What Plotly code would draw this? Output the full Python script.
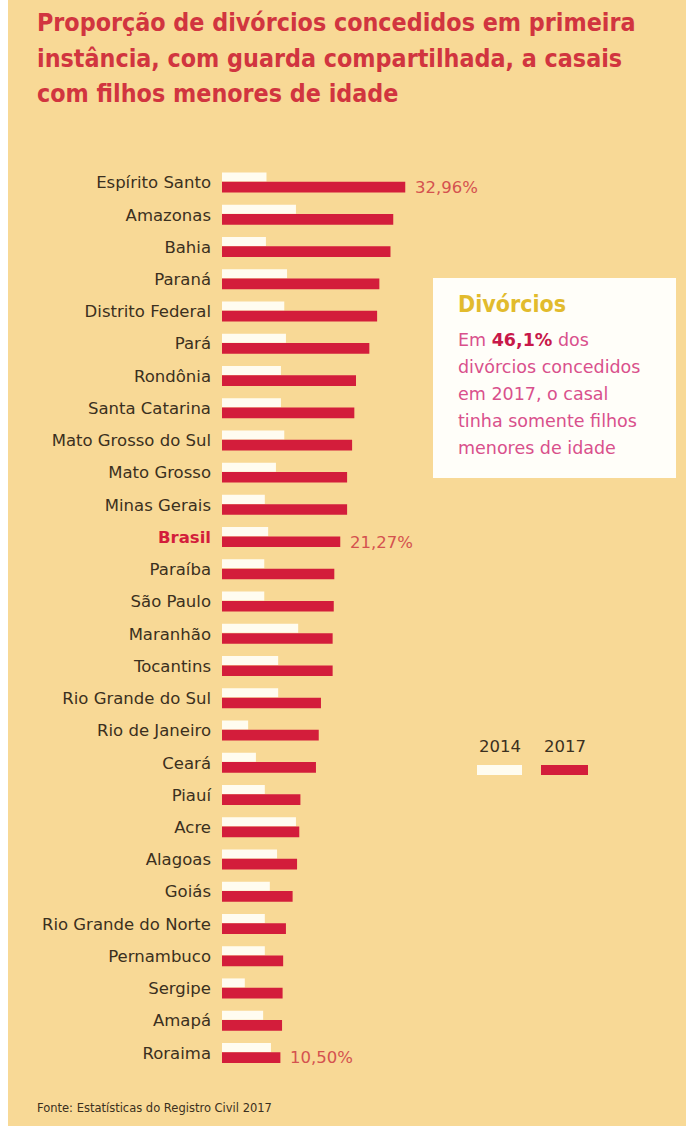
import plotly.graph_objects as go

# Share (%) of first-instance divorces with shared custody, couples with underage children
states = [
    "Espírito Santo", "Amazonas", "Bahia", "Paraná", "Distrito Federal", "Pará",
    "Rondônia", "Santa Catarina", "Mato Grosso do Sul", "Mato Grosso", "Minas Gerais",
    "Brasil", "Paraíba", "São Paulo", "Maranhão", "Tocantins", "Rio Grande do Sul",
    "Rio de Janeiro", "Ceará", "Piauí", "Acre", "Alagoas", "Goiás",
    "Rio Grande do Norte", "Pernambuco", "Sergipe", "Amapá", "Roraima",
]
share_2014 = [8.0, 13.3, 7.9, 11.7, 11.2, 11.5, 10.6, 10.6, 11.2, 9.7, 7.7, 8.3, 7.6, 7.6,
              13.7, 10.1, 10.1, 4.7, 6.1, 7.7, 13.3, 9.9, 8.6, 7.7, 7.7, 4.1, 7.4, 8.8]
share_2017 = [32.96, 30.8, 30.3, 28.3, 27.9, 26.5, 24.1, 23.8, 23.4, 22.5, 22.5, 21.27, 20.2,
              20.1, 19.9, 19.9, 17.8, 17.4, 16.9, 14.1, 13.9, 13.5, 12.7, 11.5, 11.0, 10.9,
              10.8, 10.50]
labelled_states = ["Espírito Santo", "Brasil", "Roraima"]
legend_years = ["2014", "2017"]

BG = "#f8d996"
RED = "#d31d3b"
WHITE = "#fffcf0"
DARK = "#3b3020"
TITLE_RED = "#d1353f"
VALUE_RED = "#d4524f"
PINK = "#d9508c"
GOLD = "#e2bb2d"
BODY = "DejaVu Sans, Verdana, sans-serif"
COND = "Liberation Sans Narrow, DejaVu Sans Condensed, Arial Narrow, sans-serif"

W, H = 686, 1126
ML, MR, MT, MB = 222, 0, 166, 57
PW, PH = W - ML - MR, H - MT - MB
PX_PER_PCT = 5.56


def px_x(px):
    return (px - ML) / PW


def px_y(py):
    return (H - MB - py) / PH


fig = go.Figure()
fig.add_bar(y=states, x=share_2014, orientation="h", marker=dict(color=WHITE, line_width=0),
            width=0.28, offset=-0.31, name=legend_years[0], hoverinfo="skip")
fig.add_bar(y=states, x=share_2017, orientation="h", marker=dict(color=RED, line_width=0),
            width=0.33, offset=-0.02, name=legend_years[1], hoverinfo="skip")

ticktext = [f"<b><span style='color:{RED}'>{s}</span></b>" if s == "Brasil" else s for s in states]

annotations = []
# value labels at the end of selected 2017 bars
for s, v in zip(states, share_2017):
    if s in labelled_states:
        annotations.append(dict(
            x=v, y=s, xref="x", yref="y", xanchor="left", yanchor="middle",
            xshift=8, yshift=-5, showarrow=False,
            text=f"{v:.2f}".replace(".", ",") + "%",
            font=dict(family=BODY, size=16.5, color=VALUE_RED),
        ))

# title
title_lines = [
    "Proporção de divórcios concedidos em primeira",
    "instância, com guarda compartilhada, a casais",
    "com filhos menores de idade",
]
for i, line in enumerate(title_lines):
    annotations.append(dict(
        x=px_x(35), y=px_y(22 + 36 * i), xref="paper", yref="paper",
        xanchor="left", yanchor="middle", showarrow=False, text=f"<b>{line}</b>",
        font=dict(family=COND, size=24.8, color=TITLE_RED),
    ))

# info box
shapes = [
    dict(type="rect", xref="paper", yref="paper", x0=px_x(0), x1=px_x(8),
         y0=px_y(0), y1=px_y(H), fillcolor="#ffffff", line_width=0, layer="below"),
    dict(type="rect", xref="paper", yref="paper", x0=px_x(433), x1=px_x(676),
         y0=px_y(478), y1=px_y(278), fillcolor="#fffef9", line_width=0, layer="below"),
]
annotations.append(dict(
    x=px_x(456), y=px_y(304), xref="paper", yref="paper", xanchor="left", yanchor="middle",
    showarrow=False, text="<b>Divórcios</b>", font=dict(family=COND, size=23, color=GOLD),
))
box_lines = [
    f"Em <b><span style='color:#c8184a'>46,1%</span></b> dos",
    "divórcios concedidos",
    "em 2017, o casal",
    "tinha somente filhos",
    "menores de idade",
]
for i, line in enumerate(box_lines):
    annotations.append(dict(
        x=px_x(456), y=px_y(340 + 27 * i), xref="paper", yref="paper",
        xanchor="left", yanchor="middle", showarrow=False, text=line,
        font=dict(family=BODY, size=17.5, color=PINK),
    ))

# hand-drawn legend: year above swatch
legend_x = [(477, 522), (541, 588)]
for (x0, x1), year, col in zip(legend_x, legend_years, [WHITE, RED]):
    annotations.append(dict(
        x=px_x((x0 + x1) / 2), y=px_y(746), xref="paper", yref="paper",
        xanchor="center", yanchor="middle", showarrow=False, text=year,
        font=dict(family=BODY, size=16.5, color=DARK),
    ))
    shapes.append(dict(type="rect", xref="paper", yref="paper", x0=px_x(x0), x1=px_x(x1),
                       y0=px_y(775), y1=px_y(765), fillcolor=col, line_width=0))

# source
annotations.append(dict(
    x=px_x(35), y=px_y(1108), xref="paper", yref="paper", xanchor="left", yanchor="middle",
    showarrow=False, text="Fonte: Estatísticas do Registro Civil 2017",
    font=dict(family=BODY, size=11.5, color=DARK),
))

fig.update_layout(
    width=W, height=H, margin=dict(l=ML, r=MR, t=MT, b=MB, pad=0),
    paper_bgcolor=BG, plot_bgcolor=BG, showlegend=False, barmode="overlay",
    xaxis=dict(range=[0, PW / PX_PER_PCT], visible=False, fixedrange=True),
    yaxis=dict(autorange="reversed", tickmode="array", tickvals=states, ticktext=ticktext,
               showgrid=False, zeroline=False, showline=False, ticks="",
               ticklabelstandoff=10, tickfont=dict(family=BODY, size=16.5, color=DARK),
               fixedrange=True),
    annotations=annotations, shapes=shapes,
)

fig.write_html("out.html", config={"displayModeBar": False})
